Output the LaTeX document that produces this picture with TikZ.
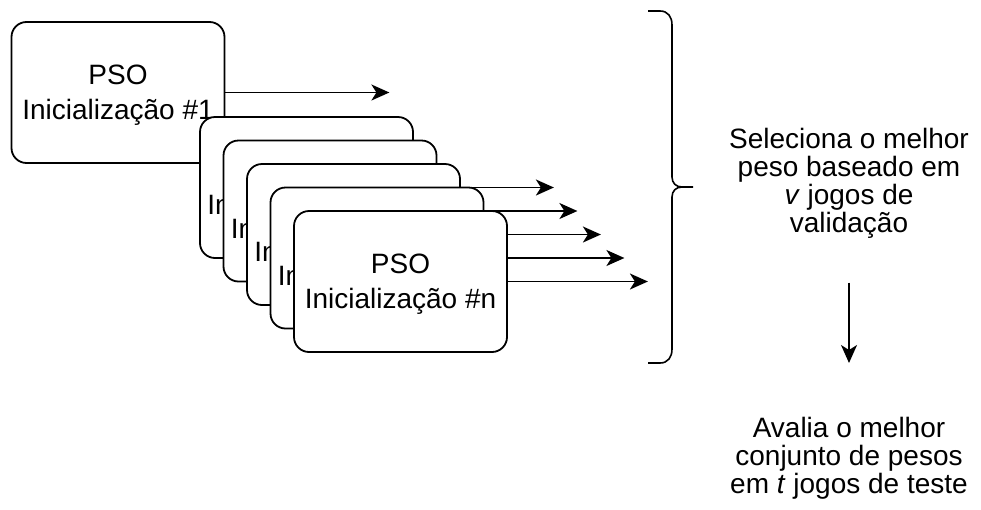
\documentclass[tikz,border=0pt]{standalone}
\usepackage{fontspec}
\setmainfont{Liberation Sans}
\usetikzlibrary{arrows.meta}

\begin{document}
\begin{tikzpicture}[x=1pt,y=-1pt,
		psobox/.style={draw,line width=1.8pt,rounded corners=15pt,fill=white,minimum width=213pt,minimum height=141pt,align=center,text depth=0pt,font=\fontsize{28}{35}\selectfont},
		flow/.style={line width=1.8pt,-{Stealth[length=18pt,width=16pt,inset=5pt]}},
		note/.style={align=center,inner sep=0pt,font=\fontsize{28}{28}\selectfont}]
		\useasboundingbox (0,0) rectangle (981,509);
		% first run, drawn alone
		\node [psobox] (b1) at (118,92.5) {PSO\\Inicialização \#1};
		\coordinate (e1) at ([xshift=164pt]b1.east);
		\draw [flow] (b1.east) -- (e1);
		% stacked runs, back to front
		\foreach \i in {2,...,5} {
			\node [psobox] (b\i) at ({306.5+23.5*(\i-2)},{187.5+23.5*(\i-2)}) {};
			\node [anchor=base west,inner sep=0pt,font=\fontsize{28}{35}\selectfont] (t\i) at ([xshift=8pt,yshift=-27pt]b\i.west) {In};
			\coordinate (e\i) at ([xshift=140pt]b\i.east);
			\draw [flow] (b\i.east) -- (e\i);
		}
		\node [psobox] (b6) at (400.5,281.5) {PSO\\Inicialização \#n};
		\coordinate (e6) at ([xshift=140pt]b6.east);
		\draw [flow] (b6.east) -- (e6);
		% brace
		\draw [line width=1.6pt] (648,11) -- (660,11) .. controls (668,11) and (672,17) .. (672,25) -- (672,177)
			.. controls (672,183) and (676,187) .. (682,187) -- (693,187)
			(682,187) .. controls (676,187) and (672,191) .. (672,197) -- (672,349)
			.. controls (672,357) and (668,363) .. (660,363) -- (648,363);
		\node [note,anchor=north] (sel) at (849,128) {Seleciona o melhor\\peso baseado em\\\textit{v} jogos de\\validação};
		\node [note,anchor=north] (aval) at (849,417) {Avalia o melhor\\conjunto de pesos\\em \textit{t} jogos de teste};
		\draw [flow,shorten <=44pt,shorten >=54pt] (sel.south) -- (aval.north);
	\end{tikzpicture}
\end{document}
